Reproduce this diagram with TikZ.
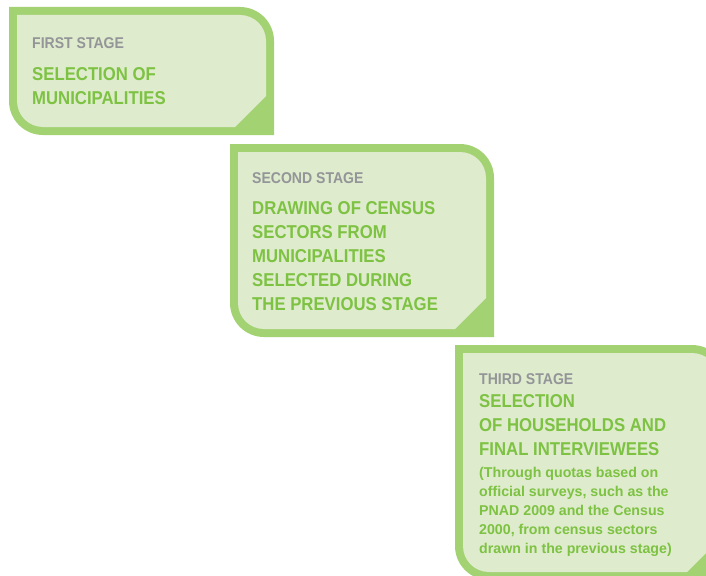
\documentclass[tikz,border=0pt]{standalone}
\usepackage{fontspec}
\newfontfamily\stagefont[FakeStretch=0.9]{Liberation Sans}
\newfontfamily\notefont{Liberation Sans}
\definecolor{bordergreen}{RGB}{163,210,115}
\definecolor{fillgreen}{RGB}{222,235,204}
\definecolor{titlegreen}{RGB}{125,194,66}
\definecolor{headgray}{RGB}{147,149,152}
\newcommand\stagebox[4]{%
  \fill[bordergreen] (#1,#2) -- ({#3-34},#2)
    .. controls ({#3-15.2},#2) and (#3,{#2+15.2}) .. (#3,{#2+34})
    -- (#3,#4) -- ({#1+34},#4)
    .. controls ({#1+15.2},#4) and (#1,{#4-15.2}) .. (#1,{#4-34}) -- cycle;
  \fill[fillgreen] ({#1+8},{#2+8}) -- ({#3-8-26},{#2+8})
    .. controls ({#3-8-11.6},{#2+8}) and ({#3-8},{#2+8+11.6}) .. ({#3-8},{#2+8+26})
    -- ({#3-8},{#4-8-31}) -- ({#3-8-31},{#4-8}) -- ({#1+8+26},{#4-8})
    .. controls ({#1+8+11.6},{#4-8}) and ({#1+8},{#4-8-11.6}) .. ({#1+8},{#4-8-26}) -- cycle;
}
\tikzset{
  head/.style={anchor=base west, inner sep=0pt, text=headgray,
    font=\stagefont\bfseries\fontsize{15.6}{18}\selectfont},
  title/.style={anchor=base west, inner sep=0pt, text=titlegreen, align=left,
    font=\stagefont\bfseries\fontsize{18.6}{24}\selectfont},
  note/.style={anchor=base west, inner sep=0pt, text=titlegreen, align=left,
    font=\notefont\bfseries\fontsize{14.2}{18.8}\selectfont},
}
\begin{document}
\begin{tikzpicture}[x=1pt,y=-1pt]
\useasboundingbox (0,0) rectangle (706,575);
\clip (0,0) rectangle (706,575);
\stagebox{9}{7}{274}{135}
\stagebox{230}{144}{494}{337}
\stagebox{455}{345}{726}{580}
\node[head] (h1) at (32,49) {FIRST STAGE};
\node[title] (t1) at (32,105) {SELECTION OF\\MUNICIPALITIES};
\node[head] (h2) at (252,183) {SECOND STAGE};
\node[title] (t2) at (252,310) {DRAWING OF CENSUS\\SECTORS FROM\\MUNICIPALITIES\\SELECTED DURING\\THE PREVIOUS STAGE};
\node[head] (h3) at (479,384) {THIRD STAGE};
\node[title] (t3) at (479,455) {SELECTION\\OF HOUSEHOLDS AND\\FINAL INTERVIEWEES};
\node[note] (n3) at (479,553) {(Through quotas based on\\official surveys, such as the\\PNAD 2009 and the Census\\2000, from census sectors\\drawn in the previous stage)};
\end{tikzpicture}
\end{document}
